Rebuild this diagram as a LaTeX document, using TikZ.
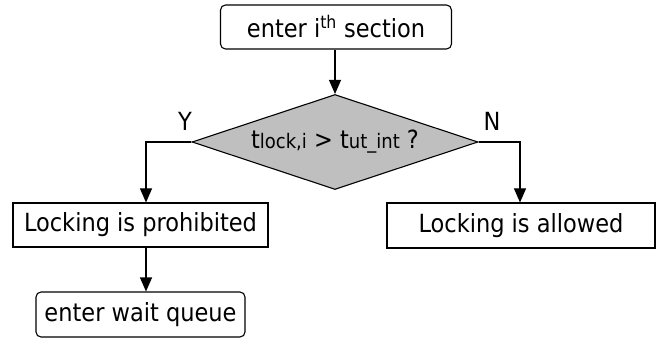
\documentclass[tikz,border=0pt]{standalone}
\usepackage{fontspec}
\setmainfont{DejaVu Sans Condensed}
\usetikzlibrary{shapes.geometric,arrows.meta}
\begin{document}
\begin{tikzpicture}[x=1pt,y=-1pt,
  every node/.style={font=\fontsize{25}{28}\selectfont},
  box/.style={draw, line width=1.1pt, fill=white, inner sep=0pt},
  rbox/.style={box, rounded corners=5pt},
  decision/.style={draw, line width=1.1pt, fill=gray!50, diamond, inner sep=0pt, shape aspect=3},
  flow/.style={line width=1.1pt, -{Triangle[width=12pt,length=14pt]}},
  lbl/.style={inner sep=0pt}
]
\useasboundingbox (0,0) rectangle (658,339);

\node[rbox, minimum width=231pt, minimum height=44pt] (top) at (336,27) {enter i\textsuperscript{th} section};
\node[decision, minimum width=286pt, minimum height=95pt] (dec) at (335,142)
  {t{\fontsize{20}{22}\selectfont lock,i} > t{\fontsize{20}{22}\selectfont ut\_int} ?};
\node[box, minimum width=255pt, minimum height=44pt] (proh) at (140.5,225) {Locking is prohibited};
\node[box, minimum width=268pt, minimum height=45pt] (allow) at (521,225.5) {Locking is allowed};
\node[rbox, minimum width=209pt, minimum height=45pt] (wait) at (140.5,314.5) {enter wait queue};

\coordinate (ybend) at (146,142);
\coordinate (nbend) at (520,142);

\draw[flow] (top.south -| dec.north) -- (dec.north);
\draw[flow] (dec.west) -- (ybend) -- (ybend |- proh.north);
\draw[flow] (dec.east) -- (nbend) -- (nbend |- allow.north);
\draw[flow] (ybend |- proh.south) -- (ybend |- wait.north);

\node[lbl] (ylab) at (185,121) {Y};
\node[lbl] (nlab) at (492,121) {N};
\end{tikzpicture}
\end{document}
